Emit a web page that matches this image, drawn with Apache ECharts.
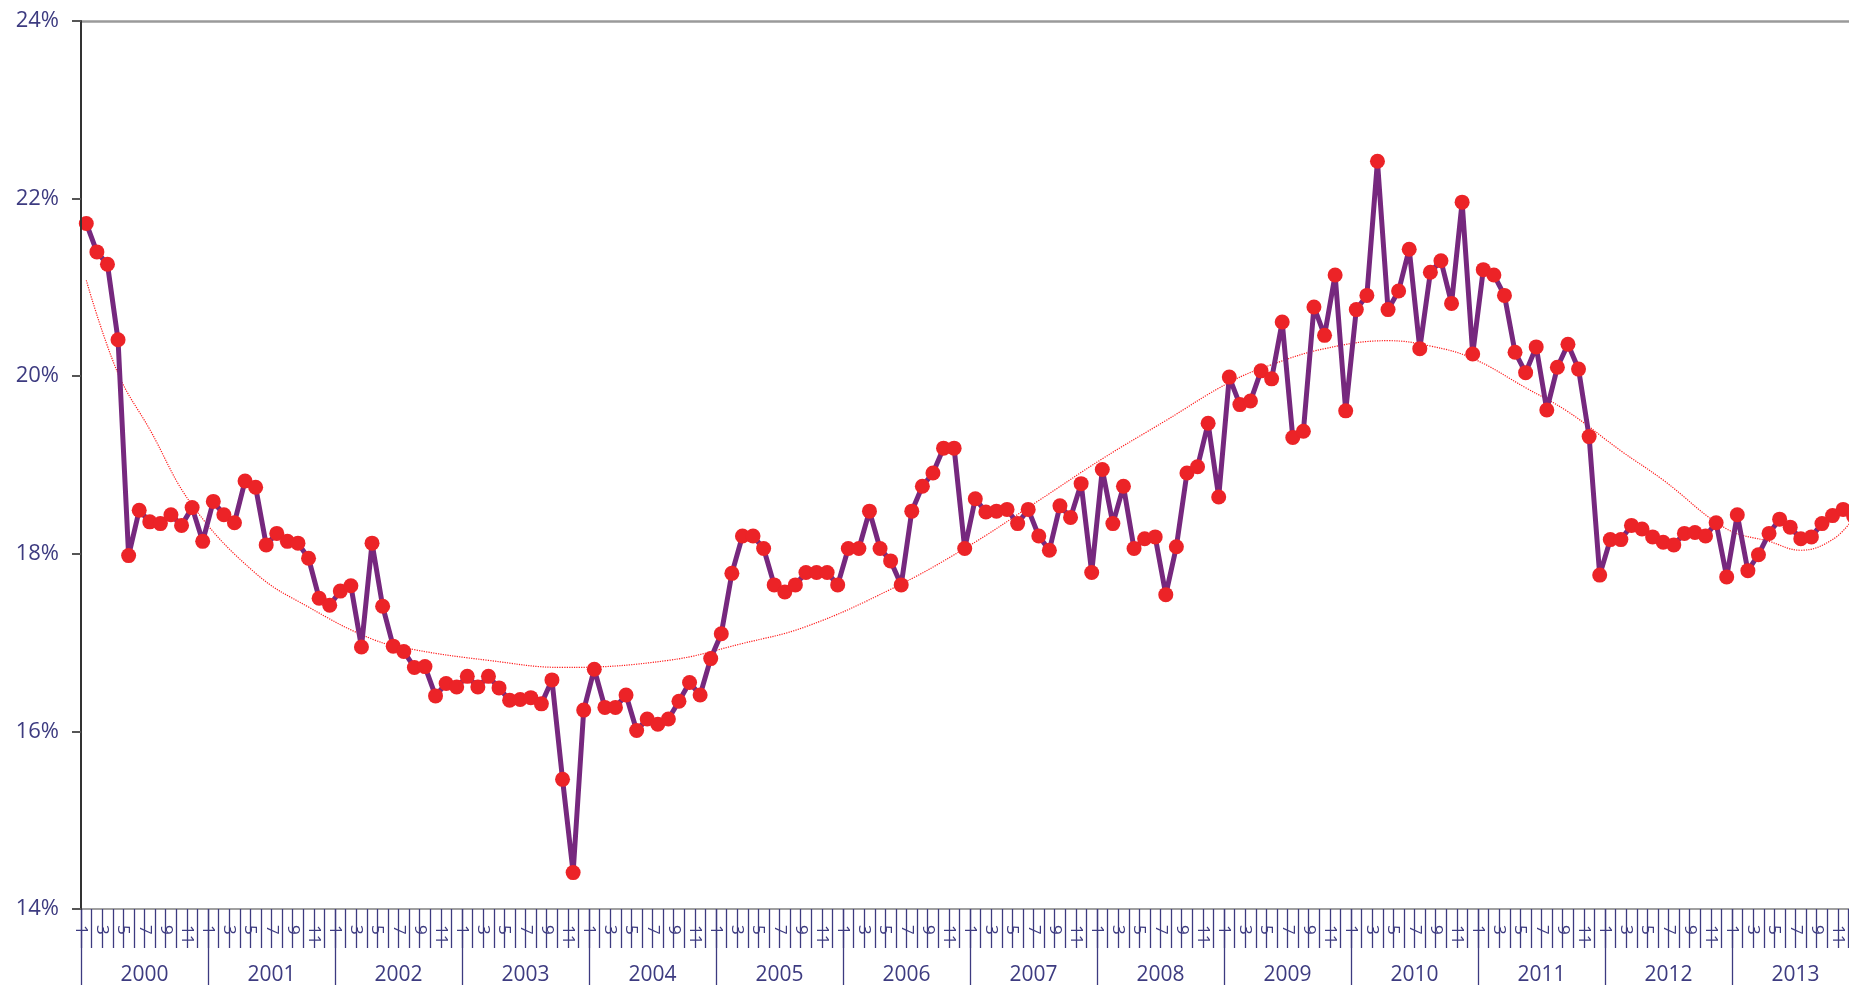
<!DOCTYPE html>
<html>
<head>
<meta charset="utf-8">
<script src="https://cdn.jsdelivr.net/npm/echarts@6/dist/echarts.min.js"></script>
<style>
html,body{margin:0;padding:0;background:#ffffff;}
#chart{width:1849px;height:985px;}
</style>
</head>
<body>
<div id="chart"></div>
<script>
// ---- data ----
const years = ['2000','2001','2002','2003','2004','2005','2006','2007','2008','2009','2010','2011','2012','2013'];
const monthNames = ['1','2','3','4','5','6','7','8','9','10','11','12'];
const yTicks = [14, 16, 18, 20, 22, 24];

// monthly values, Jan 2000 .. Dec 2013 (percent)
const rate2000 = [21.72,21.40,21.26,20.41,17.98,18.49,18.36,18.34,18.44,18.32,18.52,18.14];
const rate2001 = [18.59,18.44,18.35,18.82,18.75,18.10,18.23,18.14,18.12,17.95,17.50,17.42];
const rate2002 = [17.58,17.64,16.95,18.12,17.41,16.96,16.90,16.72,16.73,16.40,16.54,16.50];
const rate2003 = [16.62,16.50,16.62,16.49,16.35,16.36,16.38,16.31,16.58,15.46,14.41,16.24];
const rate2004 = [16.70,16.27,16.27,16.41,16.01,16.14,16.08,16.14,16.34,16.55,16.41,16.82];
const rate2005 = [17.10,17.78,18.20,18.20,18.06,17.65,17.57,17.65,17.79,17.79,17.79,17.65];
const rate2006 = [18.06,18.06,18.48,18.06,17.92,17.65,18.48,18.76,18.91,19.19,19.19,18.06];
const rate2007 = [18.62,18.47,18.48,18.50,18.34,18.50,18.20,18.04,18.54,18.41,18.79,17.79];
const rate2008 = [18.95,18.34,18.76,18.06,18.17,18.19,17.54,18.08,18.91,18.98,19.47,18.64];
const rate2009 = [19.99,19.68,19.72,20.06,19.97,20.61,19.31,19.38,20.78,20.46,21.14,19.61];
const rate2010 = [20.75,20.91,22.42,20.75,20.96,21.43,20.31,21.17,21.30,20.82,21.96,20.25];
const rate2011 = [21.20,21.14,20.91,20.27,20.04,20.33,19.62,20.10,20.36,20.08,19.32,17.76];
const rate2012 = [18.16,18.16,18.32,18.28,18.19,18.13,18.10,18.23,18.24,18.20,18.35,17.74];
const rate2013 = [18.44,17.81,17.99,18.23,18.39,18.30,18.17,18.19,18.34,18.43,18.50,18.42];

// trend line (month index, percent)
const trendIdx = [0, 3, 6, 10, 16, 21, 27, 31, 38, 45, 55, 62, 68, 76, 83, 90, 96, 102, 108, 112, 117, 123, 127, 131, 136, 140, 145, 149, 155, 159, 162, 165, 167];
const trendVal = [21.08, 20.03, 19.40, 18.55, 17.78, 17.40, 17.04, 16.92, 16.80, 16.72, 16.80, 16.99, 17.18, 17.60, 18.06, 18.60, 19.07, 19.50, 19.93, 20.13, 20.31, 20.40, 20.34, 20.20, 19.87, 19.60, 19.16, 18.83, 18.28, 18.14, 18.04, 18.16, 18.40];

// ---- build ----
const rate = [].concat(rate2000, rate2001, rate2002, rate2003, rate2004, rate2005, rate2006,
  rate2007, rate2008, rate2009, rate2010, rate2011, rate2012, rate2013);
const monthCats = [];
years.forEach(y => monthNames.forEach(m => monthCats.push(y + '-' + m)));
const boundaryCats = [];
for (let k = 0; k <= monthCats.length; k++) boundaryCats.push(monthNames[k % 12]);
const trend = trendIdx.map((x, k) => [x, trendVal[k]]);

const navy = '#3D3B80';
const font = 'Open Sans';

const chart = echarts.init(document.getElementById('chart'), null, {renderer: 'canvas'});
chart.setOption({
  animation: false,
  backgroundColor: '#ffffff',
  textStyle: {fontFamily: font},
  grid: {left: 81, top: 21, bottom: 76, right: -10, containLabel: false, outerBoundsMode: 'none'},
  xAxis: [
    {
      type: 'category', data: monthCats, boundaryGap: true, position: 'bottom',
      axisLine: {show: true, lineStyle: {color: '#A0A0A0', width: 2}},
      axisTick: {show: false}, axisLabel: {show: false}, splitLine: {show: false}
    },
    {
      type: 'category', data: boundaryCats, boundaryGap: false, position: 'bottom',
      axisLine: {show: false},
      axisTick: {show: true, interval: 0, length: 39, lineStyle: {color: navy, width: 1.3}},
      axisLabel: {show: true, interval: 1, rotate: -90, margin: 16, fontSize: 17, color: navy, fontFamily: font},
      splitLine: {show: false}
    },
    {
      type: 'category', data: years, boundaryGap: true, position: 'bottom',
      axisLine: {show: false},
      axisTick: {show: true, interval: 0, length: 80, lineStyle: {color: navy, width: 1.3}},
      axisLabel: {show: true, interval: 0, margin: 56, fontSize: 21, color: navy, fontFamily: font},
      splitLine: {show: false}
    },
    {
      type: 'category', data: monthCats, boundaryGap: true, position: 'top',
      axisLine: {show: true, lineStyle: {color: '#9A9A9A', width: 2.5}},
      axisTick: {show: false}, axisLabel: {show: false}, splitLine: {show: false}
    }
  ],
  yAxis: {
    type: 'value', min: yTicks[0], max: yTicks[yTicks.length - 1], interval: 2, z: 5,
    axisLine: {show: true, lineStyle: {color: '#333333', width: 2}},
    axisTick: {show: true, length: 9, lineStyle: {color: '#555555', width: 2}},
    axisLabel: {show: true, margin: 22, fontSize: 22, color: navy, fontFamily: font,
      formatter: v => v + '%'},
    splitLine: {show: false}
  },
  series: [
    {
      name: 'trend', type: 'line', xAxisIndex: 0, data: trend, smooth: 0.4,
      symbol: 'none', z: 1, silent: true,
      lineStyle: {color: '#FF1A1A', width: 1.2, type: 'dotted'}
    },
    {
      name: 'rate', type: 'line', xAxisIndex: 0, data: rate, z: 2,
      symbol: 'circle', symbolSize: 15, showAllSymbol: true,
      lineStyle: {color: '#76287E', width: 5},
      itemStyle: {color: '#EC2327'}
    }
  ]
});
</script>
</body>
</html>
